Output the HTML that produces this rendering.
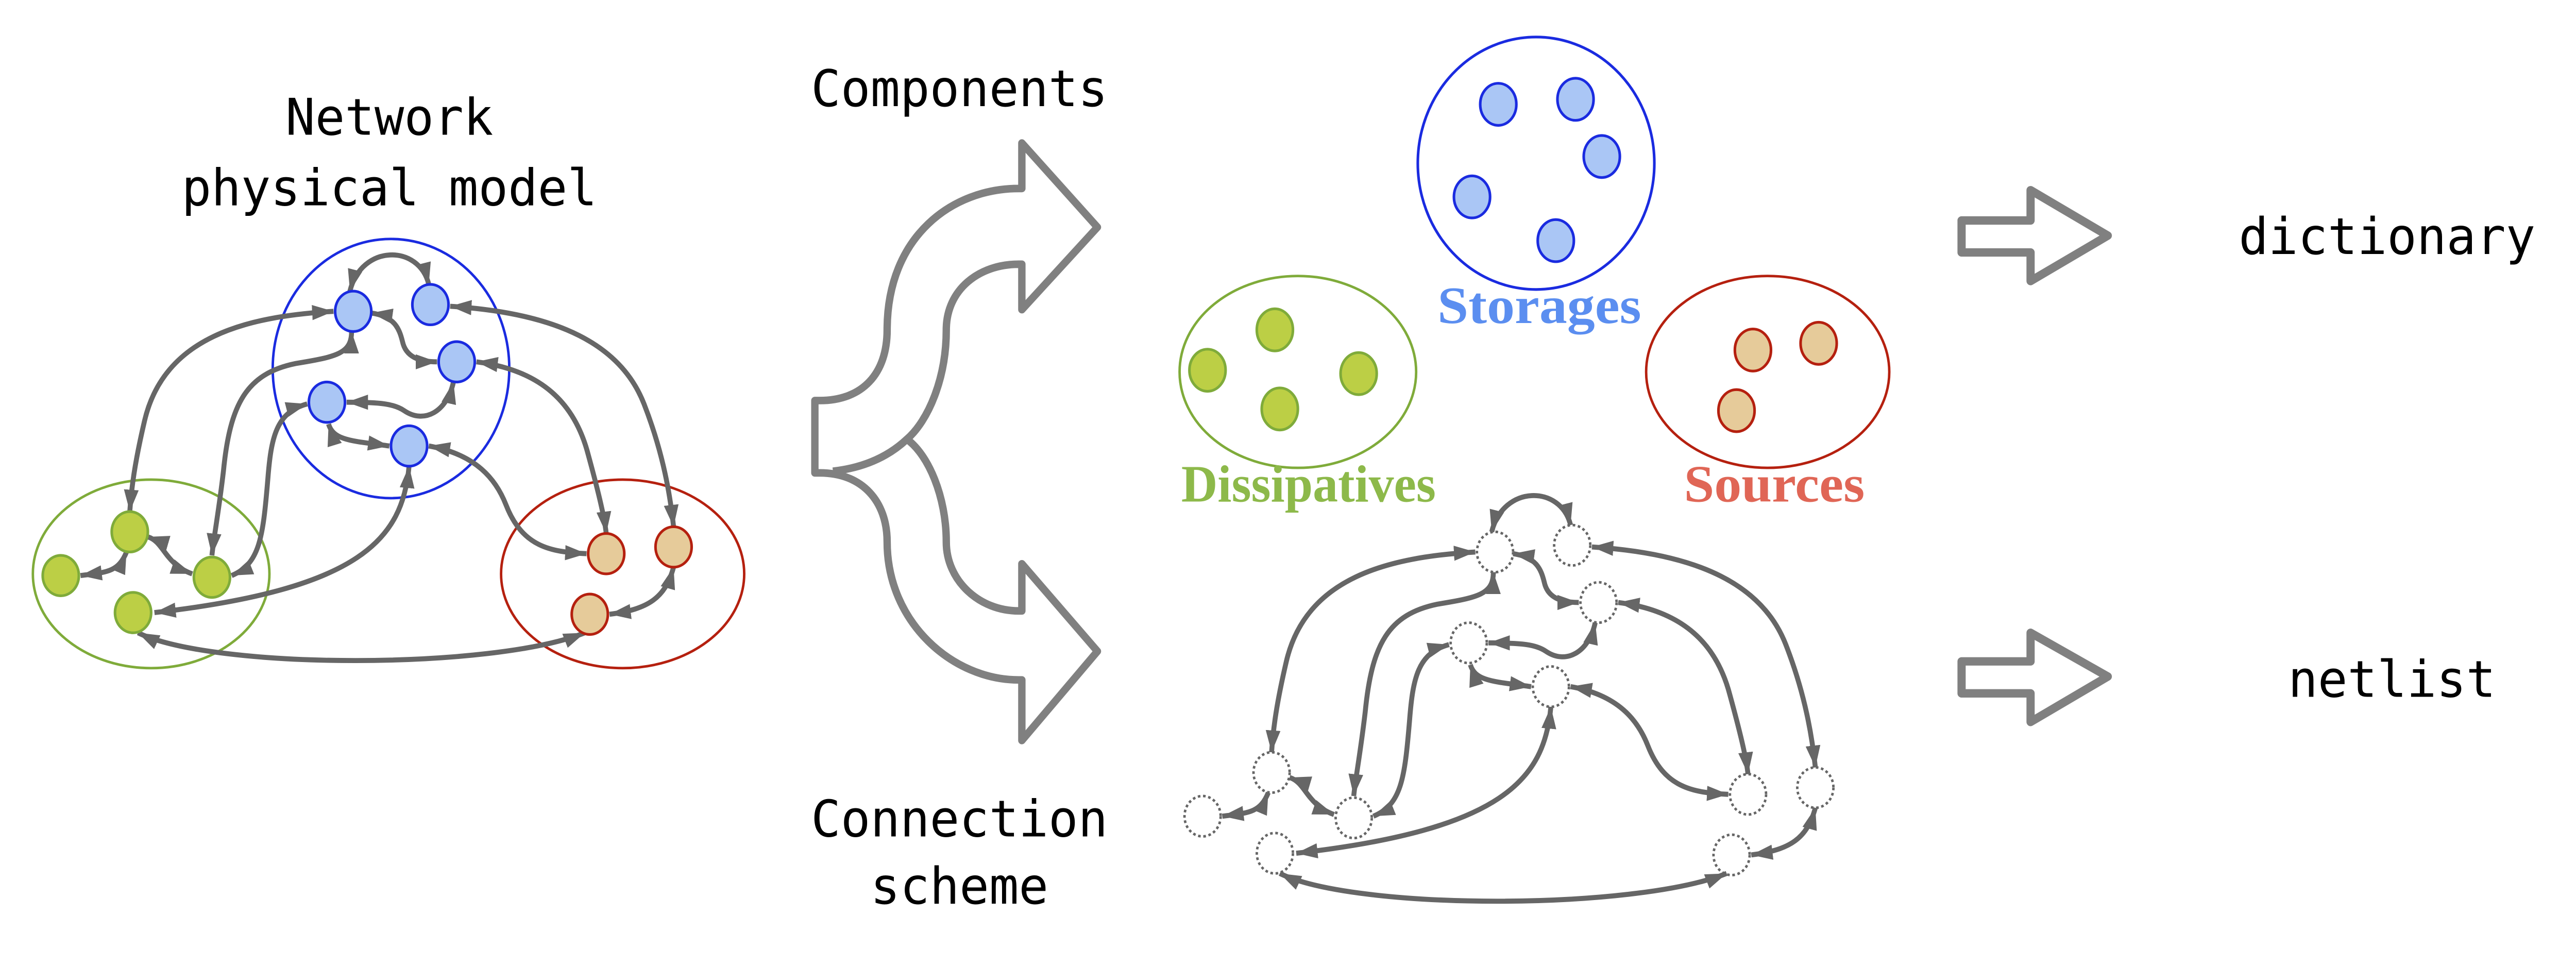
<!DOCTYPE html>
<html><head><meta charset="utf-8"><style>
html,body{margin:0;padding:0;background:#fff;width:100%;height:100%;overflow:hidden;}
svg{display:block;width:100vw;height:100vh;}
</style></head><body>
<svg viewBox="0 0 1568 574" preserveAspectRatio="none" xmlns="http://www.w3.org/2000/svg">
<defs>
<marker id="ah" viewBox="0 0 13 9" refX="13" refY="4.5" markerWidth="13" markerHeight="9" markerUnits="userSpaceOnUse" orient="auto-start-reverse">
<path d="M0,0 L13,4.5 L0,9 Z" fill="#666"/>
</marker>
<g id="edges" fill="none" stroke="#666" stroke-width="3" marker-start="url(#ah)" marker-end="url(#ah)">
<path d="M 203 185 C 150 188, 100 200, 88 250 C 82 275, 80 290, 79 304"/>
<path d="M 274 182 C 340 186, 378 205, 392 240 C 404 270, 408 295, 410 313"/>
<path d="M 213 173 C 220 145, 255 145, 261 169"/>
<path d="M 226 186 C 240 188, 243 195, 245 203 C 247 212, 255 215, 266 215"/>
<path d="M 214 197 C 214 210, 205 212, 180 216 C 150 222, 140 240, 136 280 C 133 305, 130 320, 129 330"/>
<path d="M 211 239 C 232 239, 240 240, 246 244 C 258 252, 272 245, 276 227"/>
<path d="M 200 252 C 203 262, 215 262, 237 265"/>
<path d="M 290 215 C 330 220, 350 240, 358 270 C 365 295, 368 308, 369 317"/>
<path d="M 261 265 C 290 270, 302 285, 308 300 C 318 325, 335 328, 357 329"/>
<path d="M 187 240 C 168 245, 165 260, 163 285 C 160 320, 158 335, 141 342"/>
<path d="M 249 277 C 245 320, 220 350, 94 364"/>
<path d="M 90 319 C 100 322, 100 335, 117 341"/>
<path d="M 77 328 C 72 340, 65 340, 49 342"/>
<path d="M 84 376 C 130 398, 300 398, 356 376"/>
<path d="M 371 365 C 395 362, 405 355, 410 337"/>
</g>
</defs>

<g font-family="'DejaVu Sans Mono','Liberation Mono',monospace" font-size="30" fill="#000" text-anchor="middle">
<text x="237" y="80">Network</text>
<text x="237" y="122">physical model</text>
<text x="584" y="63">Components</text>
<text x="584" y="497">Connection</text>
<text x="584" y="537">scheme</text>
<text x="1453" y="151">dictionary</text>
<text x="1456" y="414">netlist</text>
</g>

<ellipse cx="238" cy="219" rx="72" ry="77" fill="none" stroke="#1a2be0" stroke-width="1.5"/>
<ellipse cx="92" cy="341" rx="72" ry="56" fill="none" stroke="#7fab3a" stroke-width="1.5"/>
<ellipse cx="379" cy="341" rx="74" ry="56" fill="none" stroke="#b5200f" stroke-width="1.5"/>
<use href="#edges"/>
<g stroke-width="1.6">
<g fill="#aac6f5" stroke="#1a2be0">
<ellipse cx="215" cy="185" rx="11" ry="12"/>
<ellipse cx="262" cy="181" rx="11" ry="12"/>
<ellipse cx="278" cy="215" rx="11" ry="12"/>
<ellipse cx="199" cy="239" rx="11" ry="12"/>
<ellipse cx="249" cy="265" rx="11" ry="12"/>
</g>
<g fill="#bccf45" stroke="#7fab3a">
<ellipse cx="79" cy="316" rx="11" ry="12"/>
<ellipse cx="37" cy="342" rx="11" ry="12"/>
<ellipse cx="129" cy="343" rx="11" ry="12"/>
<ellipse cx="81" cy="364" rx="11" ry="12"/>
</g>
<g fill="#e6cb9a" stroke="#b5200f">
<ellipse cx="369" cy="329" rx="11" ry="12"/>
<ellipse cx="410" cy="325" rx="11" ry="12"/>
<ellipse cx="359" cy="365" rx="11" ry="12"/>
</g>
</g>

<path d="M 496 238 L 499 238 C 525 238, 540 222, 540 196 C 540 140, 580 112, 620 112 L 622 112 L 622 85 L 668 135 L 622 184 L 622 157 L 620 157 C 596 157, 576 172, 576 196 C 576 225, 565 250, 552 261 C 565 270, 576 295, 576 322 C 576 345, 596 363, 620 363 L 622 363 L 622 335 L 668 387 L 622 440 L 622 404 L 620 404 C 580 404, 540 370, 540 322 C 540 298, 525 281, 499 281 L 496 281 Z" fill="#fff" stroke="#808080" stroke-width="4.5" stroke-linejoin="round"/>
<path d="M 507 280 C 525 278, 540 272, 552 261" fill="none" stroke="#808080" stroke-width="4.5"/>

<ellipse cx="935" cy="97" rx="72" ry="75" fill="none" stroke="#1a2be0" stroke-width="1.6"/>
<ellipse cx="790" cy="221" rx="72" ry="57" fill="none" stroke="#7fab3a" stroke-width="1.5"/>
<ellipse cx="1076" cy="221" rx="74" ry="57" fill="none" stroke="#b5200f" stroke-width="1.5"/>
<g stroke-width="1.6">
<g fill="#aac6f5" stroke="#1a2be0">
<ellipse cx="912" cy="62" rx="11" ry="12.5"/>
<ellipse cx="959" cy="59" rx="11" ry="12.5"/>
<ellipse cx="975" cy="93" rx="11" ry="12.5"/>
<ellipse cx="896" cy="117" rx="11" ry="12.5"/>
<ellipse cx="947" cy="143" rx="11" ry="12.5"/>
</g>
<g fill="#bccf45" stroke="#7fab3a">
<ellipse cx="776" cy="196" rx="11" ry="12.5"/>
<ellipse cx="735" cy="220" rx="11" ry="12.5"/>
<ellipse cx="827" cy="222" rx="11" ry="12.5"/>
<ellipse cx="779" cy="243" rx="11" ry="12.5"/>
</g>
<g fill="#e6cb9a" stroke="#b5200f">
<ellipse cx="1067" cy="208" rx="11" ry="12.5"/>
<ellipse cx="1107" cy="204" rx="11" ry="12.5"/>
<ellipse cx="1057" cy="244" rx="11" ry="12.5"/>
</g>
</g>
<g font-family="'Liberation Serif',serif" font-weight="bold" font-size="31">
<text x="875" y="192" fill="#5b8ef0" textLength="124" lengthAdjust="spacingAndGlyphs">Storages</text>
<text x="719" y="298" fill="#8db94a" textLength="155" lengthAdjust="spacingAndGlyphs">Dissipatives</text>
<text x="1025" y="298" fill="#e06656" textLength="110" lengthAdjust="spacingAndGlyphs">Sources</text>
</g>

<g transform="translate(695,143)">
<use href="#edges"/>
<g fill="none" stroke="#666" stroke-width="1.5" stroke-dasharray="1.6 1.6">
<ellipse cx="215" cy="185" rx="11" ry="12"/>
<ellipse cx="262" cy="181" rx="11" ry="12"/>
<ellipse cx="278" cy="215" rx="11" ry="12"/>
<ellipse cx="199" cy="239" rx="11" ry="12"/>
<ellipse cx="249" cy="265" rx="11" ry="12"/>
<ellipse cx="79" cy="316" rx="11" ry="12"/>
<ellipse cx="37" cy="342" rx="11" ry="12"/>
<ellipse cx="129" cy="343" rx="11" ry="12"/>
<ellipse cx="81" cy="364" rx="11" ry="12"/>
<ellipse cx="369" cy="329" rx="11" ry="12"/>
<ellipse cx="410" cy="325" rx="11" ry="12"/>
<ellipse cx="359" cy="365" rx="11" ry="12"/>
</g>
</g>

<g fill="#fff" stroke="#808080" stroke-width="5" stroke-linejoin="round">
<path d="M 1194 131 L 1236 131 L 1236 113 L 1283 140 L 1236 167 L 1236 150 L 1194 150 Z"/>
<path d="M 1194 393 L 1236 393 L 1236 376 L 1283 402 L 1236 429 L 1236 412 L 1194 412 Z"/>
</g>
</svg>
</body></html>
